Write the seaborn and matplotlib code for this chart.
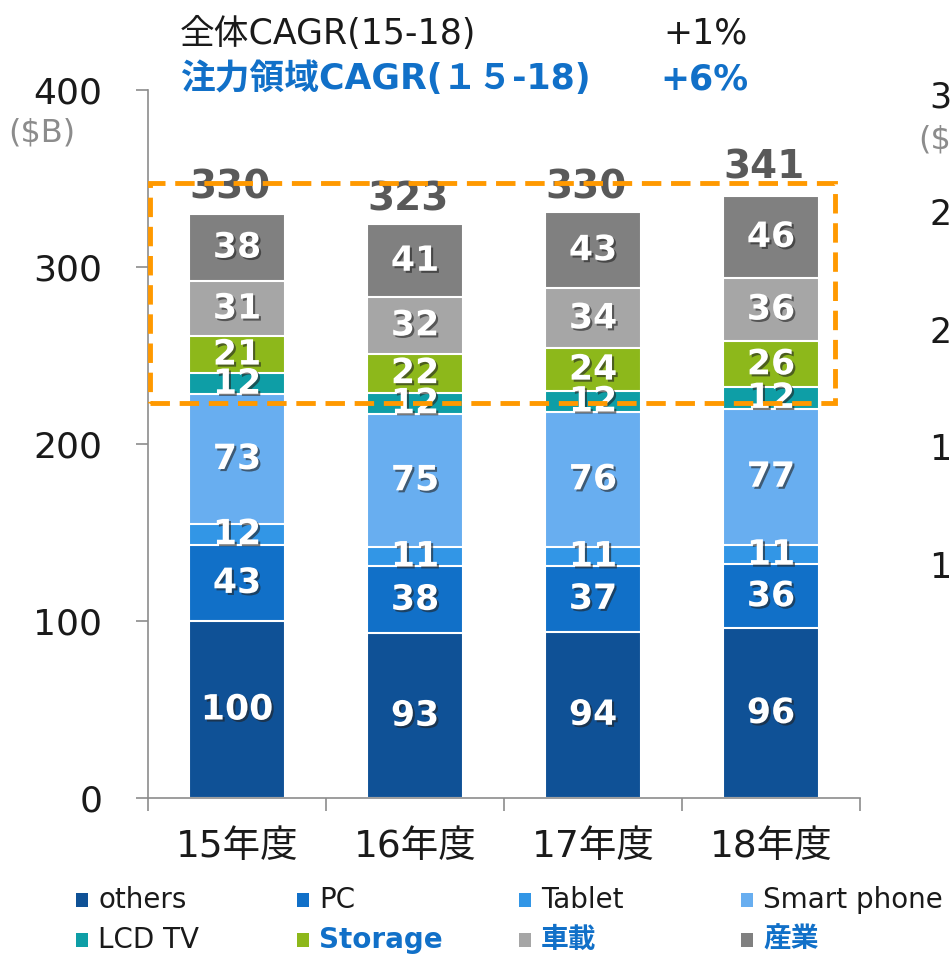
"""
Stacked bar chart: semiconductor market by application (15-18)
"""

import numpy as np
import pandas as pd
import matplotlib
matplotlib.use('Agg')
import matplotlib.pyplot as plt
import matplotlib.patheffects as pe
from matplotlib.patches import Rectangle
import seaborn as sns

# ---- data ----
years = ['15年度', '16年度', '17年度', '18年度']
series_names = ['others', 'PC', 'Tablet', 'Smart phone', 'LCD TV', 'Storage', '車載', '産業']
others = [100, 93, 94, 96]
pc = [43, 38, 37, 36]
tablet = [12, 11, 11, 11]
smart_phone = [73, 75, 76, 77]
lcd_tv = [12, 12, 12, 12]
storage = [21, 22, 24, 26]
car = [31, 32, 34, 36]
industry = [38, 41, 43, 46]
totals = [330, 323, 330, 341]
colors = ['#0F5196', '#1170C8', '#3296E6', '#68AEF0', '#0E9EA6', '#8DB81B', '#A6A6A6', '#808080']
focus = ['Storage', '車載', '産業']
yticks = [0, 100, 200, 300, 400]
# cut-off axis labels of the neighbouring chart on the right
side_ticks = ['3', '2', '2', '1', '1']

CJK = ['DejaVu Sans', 'Noto Sans CJK JP']
BLUE = '#1170C8'

sns.set_style('white')
plt.rcParams['font.family'] = CJK

df = pd.DataFrame(
    [others, pc, tablet, smart_phone, lcd_tv, storage, car, industry],
    index=series_names, columns=years,
)
cum = df.cumsum()

fig = plt.figure(figsize=(9.5, 9.56), dpi=100)
ax = fig.add_axes([0.1558, 0.1653, 0.7495, 0.7406])

# draw tallest cumulative first, smaller ones on top
for name, color in reversed(list(zip(series_names, colors))):
    sns.barplot(x=years, y=cum.loc[name].values, color=color, width=0.54,
                saturation=1, edgecolor='white', linewidth=1.5, ax=ax, zorder=2)

shadow = [pe.SimplePatchShadow(offset=(1.5, -1.5), shadow_rgbFace='#222222', alpha=0.6),
          pe.Normal()]
for name in series_names:
    for i, yr in enumerate(years):
        v = df.loc[name, yr]
        ax.text(i, cum.loc[name, yr] - v / 2, str(v), ha='center', va='center',
                color='white', fontsize=25, fontweight='bold', zorder=4,
                path_effects=shadow)

for i, t in enumerate(totals):
    ax.text(i - 0.04, t + 15, str(t), ha='center', va='center',
            color='#595959', fontsize=28, fontweight='bold', zorder=4)

# orange highlight box around focus segments
box = Rectangle((-0.49, 223), 3.85, 124.5, fill=False, edgecolor='#FF9900',
                linewidth=3.5, linestyle=(0, (4, 2)), zorder=5, clip_on=False)
ax.add_patch(box)

ax.set_xlim(-0.5, 3.5)
ax.set_ylim(0, 400)
ax.set_yticks(yticks)
ax.set_xlabel('')
ax.set_ylabel('')
for side in ['top', 'right']:
    ax.spines[side].set_visible(False)
for side in ['left', 'bottom']:
    ax.spines[side].set_color('#8C8C8C')
    ax.spines[side].set_linewidth(1.2)
ax.tick_params(axis='y', direction='out', length=9, width=1.2, color='#8C8C8C',
               labelsize=26, pad=24, labelcolor='#1A1A1A', left=True)
ax.set_xticks(range(len(years)))
ax.set_xticklabels(years)
ax.set_xticks(np.arange(-0.5, 4, 1), minor=True)
ax.tick_params(axis='x', which='major', length=0, labelsize=27, pad=22,
               labelcolor='#1A1A1A')
ax.tick_params(axis='x', which='minor', direction='out', length=9, width=1.2,
               color='#8C8C8C', bottom=True)

# unit label
fig.text(8 / 950, 1 - 133 / 956, '($B)', color='#8C8C8C', fontsize=23,
         ha='left', va='center')

# header
fig.text(180 / 950, 1 - 34 / 956, '全体CAGR(15-18)', color='#1A1A1A', fontsize=25,
         ha='left', va='center')
fig.text(663 / 950, 1 - 34 / 956, '+1%', color='#1A1A1A', fontsize=25,
         ha='left', va='center')
fig.text(180 / 950, 1 - 79 / 956, '注力領域CAGR(１５-18)', color=BLUE, fontsize=25,
         fontweight='bold', ha='left', va='center')
fig.text(660 / 950, 1 - 79 / 956, '+6%', color=BLUE, fontsize=25,
         fontweight='bold', ha='left', va='center')

# right-hand neighbour chart labels (cut off by the figure edge)
side_y = [97, 215, 333, 450, 568]
for lab, y in zip(side_ticks, side_y):
    fig.text(929 / 950, 1 - y / 956, lab, color='#1A1A1A', fontsize=25,
             ha='left', va='center')
fig.text(918 / 950, 1 - 140 / 956, '($', color='#8C8C8C', fontsize=23,
         ha='left', va='center')

# legend, two rows of four
col_x = [76, 297, 519, 741]
row_y = [900, 940]
for k, (name, color) in enumerate(zip(series_names, colors)):
    r, c = divmod(k, 4)
    x0 = col_x[c] / 950
    yc = 1 - row_y[r] / 956
    fig.patches.append(Rectangle((x0, yc - 6.5 / 956), 12 / 950, 14 / 956,
                                 transform=fig.transFigure, facecolor=color,
                                 edgecolor='none'))
    is_focus = name in focus
    fig.text(x0 + 22 / 950, yc, name, fontsize=20, ha='left', va='center',
             color=BLUE if is_focus else '#1A1A1A',
             fontweight='bold' if is_focus else 'normal')

plt.savefig('out.png', dpi=100)
plt.close()
